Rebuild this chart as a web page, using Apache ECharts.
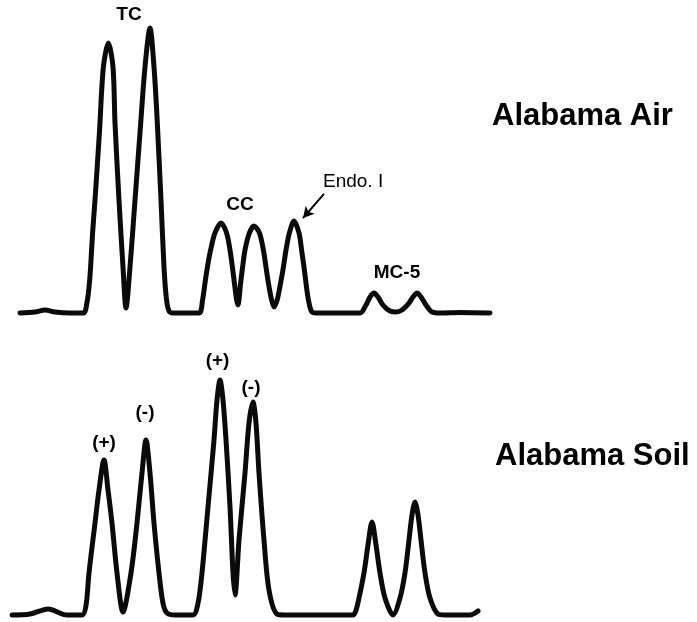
<!DOCTYPE html>
<html>
<head>
<meta charset="utf-8">
<script src="https://cdn.jsdelivr.net/npm/echarts@6/dist/echarts.min.js"></script>
<style>html,body{margin:0;padding:0;background:#fff}#c{width:697px;height:622px}</style>
</head>
<body>
<div id="c"></div>
<script>
// Alabama Air chromatogram: [retention time, relative response %]
var airTrace = [
  [0,0],[0.75,0.35],[1.25,1.05],[1.75,0.35],[2.5,0],[3.17,0],
  [3.37,4.6],[3.47,10.5],[3.53,16.1],[3.63,28.1],[3.75,39.6],[3.97,63.2],[4.17,86.3],[4.42,94.7],[4.65,86.3],[4.75,66.7],[4.95,39.6],[5.15,16.1],[5.3,1.75],
  [5.5,16.1],[5.75,39.6],[6.0,63.2],[6.25,86.3],[6.5,100],[6.7,86.3],[6.85,68.8],[7.05,39.6],[7.2,16.1],[7.32,5],[7.45,0.7],[7.65,0],
  [8.5,0],[8.97,0],
  [9.13,4.6],[9.25,10.5],[9.37,16.1],[9.53,22.1],[9.75,28.1],[10.05,31.6],[10.33,28.1],[10.5,22.1],[10.62,16.1],[10.72,10.5],[10.83,4.6],[10.9,2.8],
  [11.03,10.5],[11.13,16.1],[11.25,22.1],[11.47,28.1],[11.7,30.5],[11.97,28.1],[12.17,22.1],[12.3,16.1],[12.42,10.5],[12.58,4.6],[12.7,2.1],
  [12.86,4.6],[13.03,10.5],[13.17,16.1],[13.3,22.1],[13.47,28.1],[13.7,32.3],[13.95,28.1],[14.08,22.1],[14.2,16.1],[14.3,10.5],[14.42,4.6],[14.58,0.5],[14.8,0],
  [15.5,0],[17.0,0],
  [17.3,2.8],[17.5,5.6],[17.7,7.0],[17.9,5.6],[18.15,2.8],[18.5,0.7],[18.8,0.35],[19.1,1.05],[19.45,3.5],[19.65,5.6],[19.85,7.0],[20.05,5.6],[20.3,2.8],[20.6,0.35],[21.0,0],
  [22.0,0.2],[23.5,0]
];
// Alabama Soil chromatogram
var soilTrace = [
  [0,0],[0.9,0.4],[1.8,2.6],[2.75,0],[3.5,0],
  [3.7,4],[3.85,17.9],[4.15,39.1],[4.35,53.2],[4.6,66.0],[4.8,53.2],[5.0,39.1],[5.25,17.9],[5.55,1.3],
  [5.95,17.9],[6.25,39.1],[6.5,60.4],[6.7,74.5],[6.9,60.4],[7.1,39.1],[7.35,17.9],[7.55,5],[7.75,0.85],[8.15,0],
  [9.05,0],
  [9.3,5],[9.5,17.9],[9.8,46.0],[10.1,74.5],[10.25,91.5],[10.4,100],[10.55,91.5],[10.7,74.5],[10.9,46.0],[11.05,17.9],[11.15,8.5],
  [11.35,31.9],[11.65,60.4],[11.85,81.7],[12.05,90.6],[12.2,81.7],[12.35,60.4],[12.6,31.9],[12.85,10.6],[13.25,0.4],[13.65,0],
  [17.05,0],
  [17.2,2],[17.35,7.2],[17.6,17.9],[17.8,29.8],[18.0,39.6],[18.2,29.8],[18.4,17.9],[18.65,7.2],[19.05,0],
  [19.4,7.2],[19.65,17.9],[19.85,31.9],[20.0,42.6],[20.15,48.1],[20.3,42.6],[20.45,31.9],[20.65,17.9],[20.9,7.2],[21.3,0.4],[21.65,0],
  [22.9,0],[23.3,1.7]
];
// Peak annotations: [label, time, response]
var airLabels = [['TC',6.5,100],['CC',10.05,31.6],['Endo. I',13.7,32.3],['MC-5',17.7,7.0]];
var soilLabels = [['(+)',4.6,66.0],['(-)',6.7,74.5],['(+)',10.4,100],['(-)',12.05,90.6]];
var endoArrow = [[15.2,41.8],[14.15,33.3]];
var panelTitles = ['Alabama Air','Alabama Soil'];

var FONT = '"Liberation Sans", Arial, Helvetica, sans-serif';
var airOffsets = [[-21,-13],[19,-18],[29,-39],[23,-20]];
var airStyle = [
  {fontWeight:'bold',fontSize:19,align:'center'},
  {fontWeight:'bold',fontSize:19,align:'center'},
  {fontWeight:'normal',fontSize:19,align:'left'},
  {fontWeight:'bold',fontSize:19,align:'center'}
];
var soilOffsets = [[0,-17],[-1,-27],[-2.5,-19],[-2,-14]];

function mp(labels, offsets, styles){
  return {
    symbol:'circle', symbolSize:0, silent:true,
    itemStyle:{color:'rgba(0,0,0,0)'},
    data: labels.map(function(l,i){
      var st = styles ? styles[i] : {fontWeight:'bold',fontSize:19,align:'center'};
      return {
        coord:[l[1],l[2]],
        label:{show:true, position:'inside', formatter:l[0], offset:offsets[i], color:'#000',
          fontFamily:FONT, fontWeight:st.fontWeight, fontSize:st.fontSize, align:st.align, verticalAlign:'middle'}
      };
    })
  };
}

var chart = echarts.init(document.getElementById('c'), null, {renderer:'canvas'});
var axisOff = {show:false};
chart.setOption({
  animation:false,
  backgroundColor:'#fff',
  grid:[
    {left:20, top:28, width:470, height:285},
    {left:12, top:380, width:466, height:235}
  ],
  xAxis:[
    Object.assign({type:'value', gridIndex:0, min:0, max:23.5}, axisOff),
    Object.assign({type:'value', gridIndex:1, min:0, max:23.3}, axisOff)
  ],
  yAxis:[
    Object.assign({type:'value', gridIndex:0, min:0, max:100}, axisOff),
    Object.assign({type:'value', gridIndex:1, min:0, max:100}, axisOff)
  ],
  series:[
    {type:'line', xAxisIndex:0, yAxisIndex:0, data:airTrace, showSymbol:false, smooth:0.3, clip:false,
      lineStyle:{color:'#0a0a0a', width:5, join:'round', cap:'round'},
      markPoint: mp(airLabels, airOffsets, airStyle),
      markLine:{silent:true, symbol:['none','arrow'], symbolSize:[9,11], label:{show:false},
        lineStyle:{color:'#000', width:2, type:'solid'},
        data:[[{coord:endoArrow[0]},{coord:endoArrow[1]}]]}
    },
    {type:'line', xAxisIndex:1, yAxisIndex:1, data:soilTrace, showSymbol:false, smooth:0.3, clip:false,
      lineStyle:{color:'#0a0a0a', width:5, join:'round', cap:'round'},
      markPoint: mp(soilLabels, soilOffsets, null)
    }
  ],
  graphic:[
    {type:'text', x:492, y:116, style:{text:panelTitles[0], font:'bold 31px '+FONT, fill:'#000', align:'left', verticalAlign:'middle'}},
    {type:'text', x:495, y:456, style:{text:panelTitles[1], font:'bold 31px '+FONT, fill:'#000', align:'left', verticalAlign:'middle'}}
  ]
});
</script>
</body>
</html>
